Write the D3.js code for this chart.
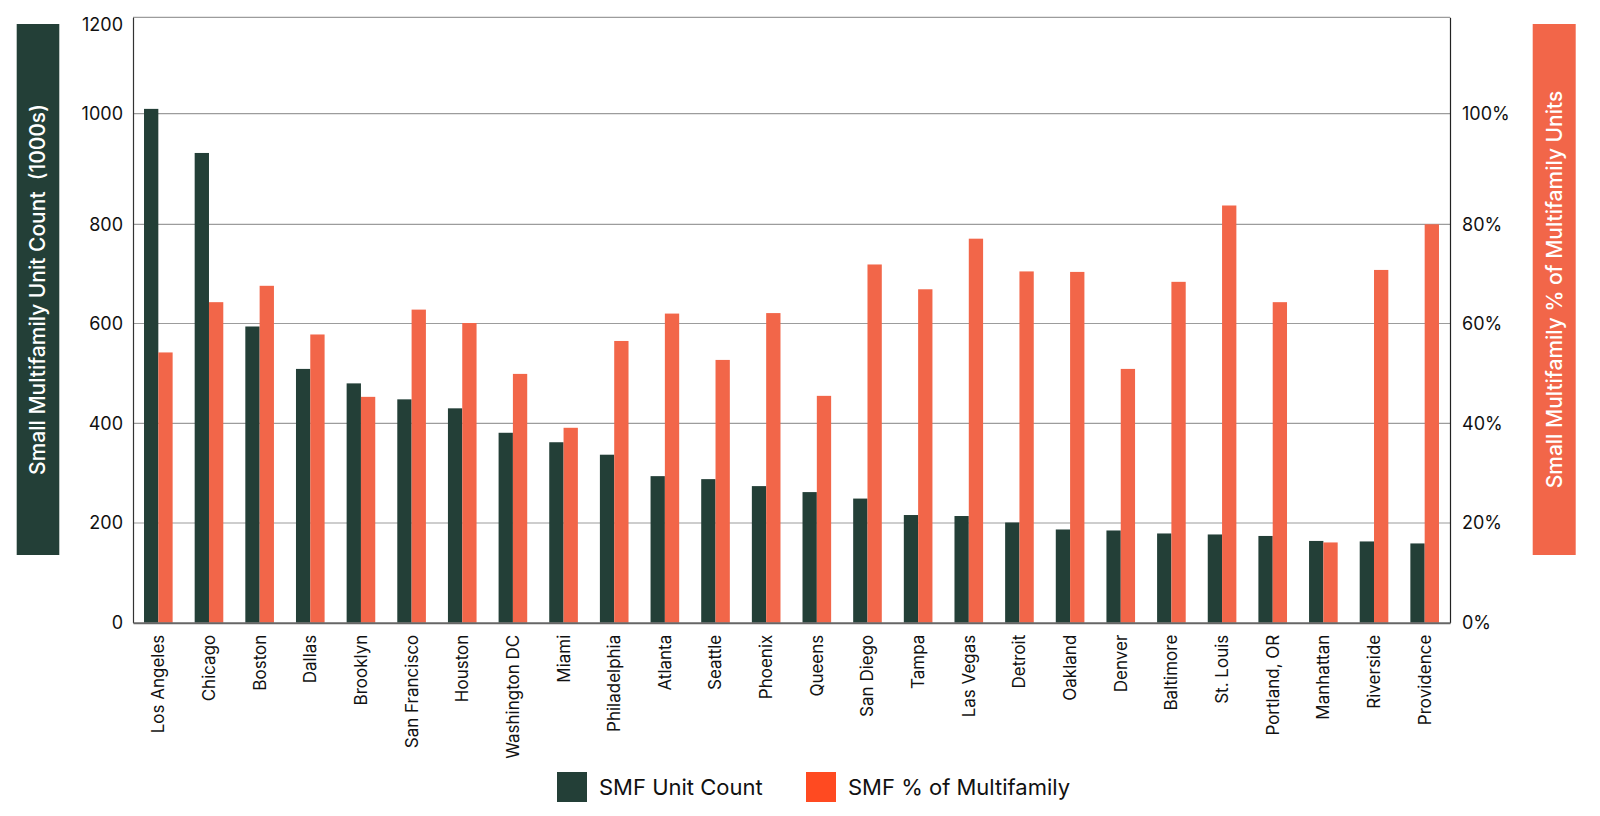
<!DOCTYPE html>
<html>
<head>
<meta charset="utf-8">
<script src="https://cdn.jsdelivr.net/npm/d3@7"></script>
<style>
  html, body { margin: 0; padding: 0; background: #ffffff; }
  svg { display: block; font-family: Inter, "Liberation Sans", Arial, sans-serif; }
</style>
</head>
<body>
<svg id="chart" width="1600" height="816"></svg>
<script>
const categories = ["Los Angeles","Chicago","Boston","Dallas","Brooklyn","San Francisco","Houston","Washington DC","Miami","Philadelphia","Atlanta","Seattle","Phoenix","Queens","San Diego","Tampa","Las Vegas","Detroit","Oakland","Denver","Baltimore","St. Louis","Portland, OR","Manhattan","Riverside","Providence"];
const unitCount = [1010,929,594,509,480,448,430,381,362,337,294,288,274,262,249,216,214,201,187,185,179,177,174,164,163,159];
const pctMultifamily = [54.2,64.3,67.6,57.8,45.3,62.8,60.1,49.9,39.1,56.5,62.0,52.7,62.1,45.5,71.9,66.9,77.1,70.5,70.4,50.9,68.4,83.4,64.3,16.1,70.8,80.0];
const leftTicks = [0,200,400,600,800,1000,1200];
const rightTicks = [0,20,40,60,80,100];
const seriesNames = ["SMF Unit Count","SMF % of Multifamily"];
const leftTitle = "Small Multifamily Unit Count  (1000s)";
const rightTitle = "Small Multifamily % of Multifamily Units";

const DARK = "#233f37", ORANGE = "#f26649", LEGEND_ORANGE = "#ff4a21";
const svg = d3.select("#chart");
const L = 133, R = 1450, TOP = 17.3, BOT = 622.7;

// gridline positions as drawn in the reference (slightly irregular spacing)
const yRange = [BOT, 523, 423.3, 323.5, 224.3, 113.7, TOP];
const yL = d3.scaleLinear().domain(leftTicks).range(yRange);
const yR = d3.scaleLinear().domain([0,20,40,60,80,100,120]).range(yRange);

const x = d3.scaleBand().domain(categories).range([L, R]).paddingInner(0.435).paddingOuter(0.2175);
const xs = d3.scaleBand().domain([0,1]).range([0, x.bandwidth()]);

// gridlines
svg.append("g").selectAll("line").data(leftTicks.slice(1, -1)).join("line")
  .attr("x1", L).attr("x2", R).attr("y1", d => yL(d)).attr("y2", d => yL(d))
  .attr("stroke", "#9c9c9c").attr("stroke-width", 1.2);
// top border
svg.append("line").attr("x1", L).attr("x2", R).attr("y1", yL(1200)).attr("y2", yL(1200))
  .attr("stroke", "#9c9c9c").attr("stroke-width", 1.2);

// bars
const g = svg.append("g");
g.selectAll("rect.cnt").data(categories).join("rect").attr("class", "cnt")
  .attr("x", d => x(d) + xs(0)).attr("width", xs.bandwidth())
  .attr("y", (d, i) => yL(unitCount[i])).attr("height", (d, i) => BOT - yL(unitCount[i]))
  .attr("fill", DARK);
g.selectAll("rect.pct").data(categories).join("rect").attr("class", "pct")
  .attr("x", d => x(d) + xs(1)).attr("width", xs.bandwidth())
  .attr("y", (d, i) => yR(pctMultifamily[i])).attr("height", (d, i) => BOT - yR(pctMultifamily[i]))
  .attr("fill", ORANGE);

// axes
const axL = svg.append("g").attr("transform", `translate(${L},0)`)
  .call(d3.axisLeft(yL).tickValues(leftTicks).tickSize(0).tickPadding(10).tickFormat(d3.format("d")));
axL.select(".domain").attr("stroke", "#333").attr("stroke-width", 1.2);
axL.selectAll("text").attr("font-size", 18).attr("fill", "#111").attr("font-family", "Inter");
axL.selectAll(".tick").filter(d => d === 1200).select("text").attr("dy", "0.75em");

const axR = svg.append("g").attr("transform", `translate(${R},0)`)
  .call(d3.axisRight(yR).tickValues(rightTicks).tickSize(0).tickPadding(12).tickFormat(d => d + "%"));
axR.select(".domain").attr("stroke", "#222").attr("stroke-width", 1.2);
axR.selectAll("text").attr("font-size", 18).attr("fill", "#111").attr("font-family", "Inter");

const axB = svg.append("g").attr("transform", `translate(0,${BOT})`)
  .call(d3.axisBottom(x).tickSize(0).tickPadding(0));
axB.select(".domain").attr("stroke", "#666").attr("stroke-width", 2);
axB.selectAll("text").attr("font-size", 17).attr("fill", "#111").attr("font-family", "Inter")
  .attr("text-anchor", "end").attr("transform", "rotate(-90)")
  .attr("x", -12).attr("y", 0).attr("dy", "0.35em");

// axis title boxes
function titleBox(x0, w, fill, text) {
  const y0 = 24, y1 = 555;
  svg.append("rect").attr("x", x0).attr("y", y0).attr("width", w).attr("height", y1 - y0).attr("fill", fill);
  svg.append("text").attr("transform", `translate(${x0 + w / 2},${(y0 + y1) / 2}) rotate(-90)`)
    .attr("text-anchor", "middle").attr("dy", "0.35em").attr("fill", "#fff")
    .attr("font-size", 21).attr("font-weight", 500).attr("xml:space", "preserve")
    .style("white-space", "pre").text(text);
}
titleBox(16.7, 42.6, DARK, leftTitle);
titleBox(1532.7, 43, ORANGE, rightTitle);

// legend
const legendItems = [{name: seriesNames[0], color: DARK, x: 557}, {name: seriesNames[1], color: LEGEND_ORANGE, x: 806}];
const lg = svg.append("g");
legendItems.forEach(it => {
  lg.append("rect").attr("x", it.x).attr("y", 772).attr("width", 30).attr("height", 30).attr("fill", it.color);
  lg.append("text").attr("x", it.x + 42).attr("y", 787).attr("dy", "0.35em")
    .attr("font-size", 22).attr("fill", "#111").text(it.name);
});
</script>
</body>
</html>
